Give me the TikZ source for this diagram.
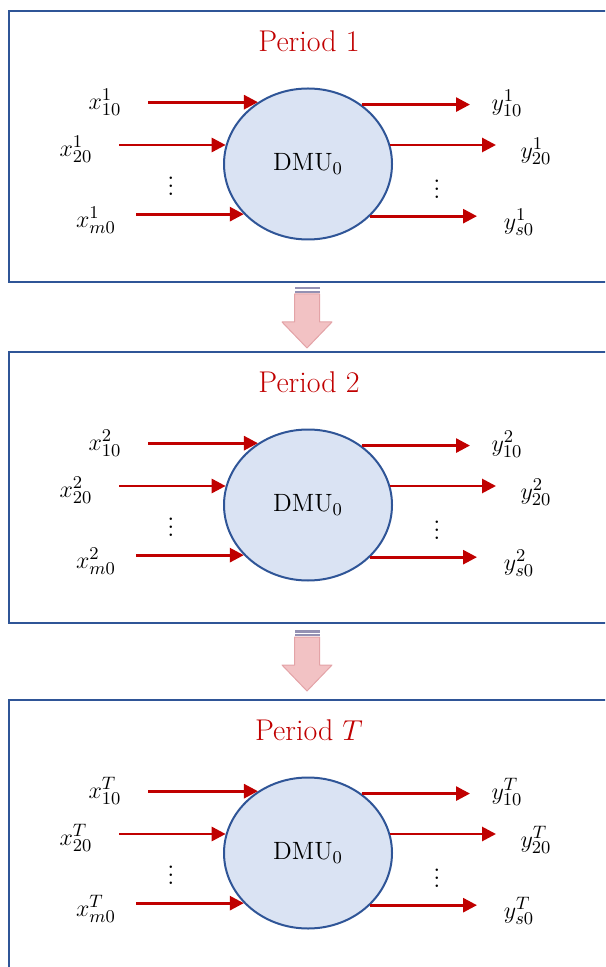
\documentclass[tikz,border=0pt]{standalone}
\usetikzlibrary{arrows.meta,shapes.geometric,positioning}
\definecolor{boxblue}{HTML}{2F5597}
\definecolor{dmufill}{HTML}{DAE3F3}
\definecolor{flowred}{HTML}{C00000}
\definecolor{stepfill}{HTML}{F2C2C4}
\definecolor{stepline}{HTML}{E3A3A7}
\definecolor{stripe}{HTML}{9491B3}

\begin{document}
\begin{tikzpicture}[x=0.5pt,y=-0.5pt,>={Triangle[length=7pt,width=7pt]},
    panel/.style={draw=boxblue,line width=1pt},
    dmu/.style={ellipse,draw=boxblue,fill=dmufill,line width=1pt,
      minimum width=84pt,minimum height=75.5pt,inner sep=0pt,
      font=\fontsize{12.5}{14}\selectfont},
    flow/.style={->,draw=flowred,line width=1.4pt},
    lbl/.style={inner sep=1pt,font=\fontsize{13}{15}\selectfont},
    periodtitle/.style={text=flowred,font=\fontsize{15}{17}\selectfont}]
  \useasboundingbox (0,0) rectangle (605,967);
  \clip (0,0) rectangle (605,967);
  % one panel per period
  \foreach \oy/\per/\ttl/\bot in {0/1/1/282, 341/2/2/282, 689/T/$T$/320} {
    \begin{scope}[shift={(0,\oy)}]
      \draw[panel] (9,11) rectangle (620,\bot);
      \node[periodtitle] (title) at (309,41) {Period \ttl};
      \node[dmu] (dmu) at (308,164) {DMU$_0$};
      % inputs
      \node[lbl] (x1) at (105,102) {$x_{10}^{\per}$};
      \node[lbl] (x2) at (76,149) {$x_{20}^{\per}$};
      \node[lbl] (xm) at (96,220) {$x_{m0}^{\per}$};
      \node[lbl] (xdots) at (171,180) {$\vdots$};
      \coordinate (s1) at (148,0);
      \coordinate (s2) at (119,0);
      \coordinate (sm) at (136,0);
      \draw[flow] (s1 |- dmu.129) -- (dmu.129);
      \draw[flow] (s2 |- dmu.167.6) -- (dmu.167.6);
      \draw[flow] (sm |- dmu.218.5) -- (dmu.218.5);
      % outputs
      \node[lbl] (y1) at (507,103) {$y_{10}^{\per}$};
      \node[lbl] (y2) at (536,151) {$y_{20}^{\per}$};
      \node[lbl] (ys) at (519,222) {$y_{s0}^{\per}$};
      \node[lbl] (ydots) at (437,183) {$\vdots$};
      \coordinate (t1) at (470,0);
      \coordinate (t2) at (496,0);
      \coordinate (ts) at (477,0);
      \draw[flow] (dmu.48.4) -- (t1 |- dmu.48.4);
      \draw[flow] (dmu.13.9) -- (t2 |- dmu.13.9);
      \draw[flow] (dmu.-40.5) -- (ts |- dmu.-40.5);
    \end{scope}
  }
  % striped arrows between the panels
  \foreach \ay in {0,343} {
    \begin{scope}[shift={(0,\ay)}]
      \fill[stripe] (294.5,287) rectangle (319.5,289.5);
      \fill[stripe] (294.5,291) rectangle (319.5,293);
      \draw[stepline,fill=stepfill,line width=0.5pt,line join=round]
        (294.5,294) -- (319.5,294) -- (319.5,322) -- (332,322)
        -- (307,348) -- (282,322) -- (294.5,322) -- cycle;
    \end{scope}
  }
\end{tikzpicture}
\end{document}
